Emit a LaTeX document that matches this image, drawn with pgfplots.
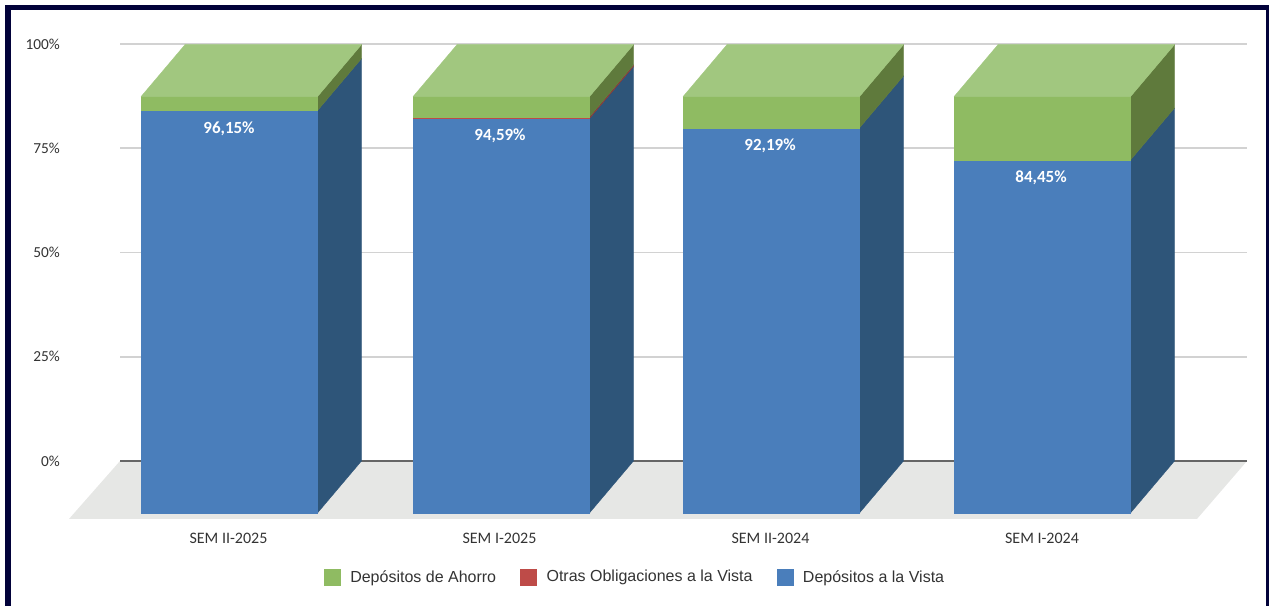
\documentclass[border=0pt]{standalone}
\usepackage{pgfplots}
\pgfplotsset{compat=1.18}
\usepackage{fontspec}
\setmainfont{Carlito}
\newfontfamily\legfont{Liberation Sans}
\definecolor{bluef}{HTML}{4A7EBB}
\definecolor{blues}{HTML}{2E5579}
\definecolor{greenf}{HTML}{8FBB62}
\definecolor{greent}{HTML}{A1C77F}
\definecolor{greens}{HTML}{5F7A3C}
\definecolor{redf}{HTML}{BE4B48}
\definecolor{reds}{HTML}{8A3A38}
\definecolor{floorc}{HTML}{E6E7E5}
\definecolor{framec}{HTML}{02023A}
\definecolor{txt}{HTML}{333333}
\definecolor{gridc}{HTML}{D2D2D2}
\newcommand\depthx{44}
\newcommand\depthy{12.47}
\newcommand\barw{176.5}
% segment: left x, low %, high %, front colour, side colour
\newcommand\seg[5]{%
  \pgfmathsetmacro\xa{#1}%
  \pgfmathsetmacro\xb{#1+\barw}%
  \pgfmathsetmacro\xc{#1+\barw+\depthx}%
  \pgfmathsetmacro\ya{#2-\depthy}%
  \pgfmathsetmacro\yb{#3-\depthy}%
  \edef\tmpa{\noexpand\addplot[fill=#5,draw=#5,line width=0.3pt,mark=none,forget plot] coordinates {(\xb,\ya)(\xc,#2)(\xc,#3)(\xb,\yb)(\xb,\ya)};}\tmpa
  \edef\tmpb{\noexpand\addplot[fill=#4,draw=#4,line width=0.3pt,mark=none,forget plot] coordinates {(\xa,\ya)(\xb,\ya)(\xb,\yb)(\xa,\yb)(\xa,\ya)};}\tmpb
}
\newcommand\topface[1]{%
  \pgfmathsetmacro\xa{#1}%
  \pgfmathsetmacro\xb{#1+\barw}%
  \pgfmathsetmacro\xc{#1+\barw+\depthx}%
  \pgfmathsetmacro\xd{#1+\depthx}%
  \pgfmathsetmacro\yb{99.85-\depthy}%
  \edef\tmpc{\noexpand\addplot[fill=greent,draw=greent,line width=0.3pt,mark=none,forget plot] coordinates {(\xa,\yb)(\xd,99.85)(\xc,99.85)(\xb,\yb)(\xa,\yb)};}\tmpc
}
\begin{document}
\begin{tikzpicture}[x=1pt,y=1pt]
\begin{axis}[
  at={(0pt,0pt)},anchor=south west,
  scale only axis,width=1269pt,height=606pt,
  xmin=0,xmax=1269,ymin=-34.772,ymax=110.552,
  clip=false,
  axis line style={draw=none},
  major tick length=0pt,
  tick style={draw=none},
  ytick={0,25,50,75,100},
  yticklabels={0\%,25\%,50\%,75\%,100\%},
  xtick={228.5,499.5,770.5,1042},
  xticklabels={SEM II-2025,SEM I-2025,SEM II-2024,SEM I-2024},
  yticklabel style={anchor=east,xshift=60pt,font=\fontsize{15.3}{15}\selectfont,text=txt,inner sep=0pt},
  xticklabel style={anchor=center,yshift=68pt,font=\fontsize{16}{16}\selectfont,text=txt,inner sep=0pt},
  every tick label/.append style={inner sep=0pt},
  ylabel={},xlabel={},
  legend columns=3,
  legend cell align=left,
  legend image code/.code={\fill[#1] (0pt,-8pt) rectangle (16pt,8pt);},
  legend style={at={(axis cs:635,-27.8)},anchor=center,draw=none,fill=none,
    font=\legfont\fontsize{16}{16}\selectfont,text=txt,inner sep=0pt,
    /tikz/every odd column/.append style={column sep=8pt},
    /tikz/every even column/.append style={column sep=22pt}},
]
% floor
\addplot[fill=floorc,draw=none,mark=none,forget plot] coordinates {(120,0)(1247,0)(1197,-13.9)(69,-13.9)(120,0)};
% gridlines
\addplot[gridc,line width=1.5pt,mark=none,forget plot] coordinates {(120,100)(1247,100)};
\addplot[gridc,line width=1.5pt,mark=none,forget plot] coordinates {(120,75)(1247,75)};
\addplot[gridc,line width=1.5pt,mark=none,forget plot] coordinates {(120,50)(1247,50)};
\addplot[gridc,line width=1.5pt,mark=none,forget plot] coordinates {(120,25)(1247,25)};
\addplot[black!60,line width=2pt,mark=none,forget plot] coordinates {(120,0)(1247,0)};
% bars: Depósitos a la Vista / Otras Obligaciones / Depósitos de Ahorro
\seg{141}{0}{96.5}{bluef}{blues}
\seg{141}{96.5}{99.85}{greenf}{greens}
\topface{141}
\seg{413}{0}{94.6}{bluef}{blues}
\seg{413}{94.6}{95.0}{redf}{reds}
\seg{413}{95.0}{99.85}{greenf}{greens}
\topface{413}
\seg{683}{0}{92.35}{bluef}{blues}
\seg{683}{92.35}{99.85}{greenf}{greens}
\topface{683}
\seg{954}{0}{84.65}{bluef}{blues}
\seg{954}{84.65}{99.85}{greenf}{greens}
\topface{954}
% legend
\addlegendimage{greenf}\addlegendentry{Depósitos de Ahorro}
\addlegendimage{redf}\addlegendentry{Otras Obligaciones a la Vista}
\addlegendimage{bluef}\addlegendentry{Depósitos a la Vista}
% data labels
\node[text=white,font=\bfseries\fontsize{17}{17}\selectfont] at (axis cs:229,79.7) {96,15\%};
\node[text=white,font=\bfseries\fontsize{17}{17}\selectfont] at (axis cs:500,77.9) {94,59\%};
\node[text=white,font=\bfseries\fontsize{17}{17}\selectfont] at (axis cs:770,75.5) {92,19\%};
\node[text=white,font=\bfseries\fontsize{17}{17}\selectfont] at (axis cs:1041,67.9) {84,45\%};
\end{axis}
\fill[framec] (4.7pt,0pt) rectangle (10.5pt,601.3pt);
\fill[framec] (4.7pt,595.5pt) rectangle (1269pt,601.3pt);
\fill[framec] (1266pt,0pt) rectangle (1269pt,601.3pt);
\end{tikzpicture}
\end{document}
